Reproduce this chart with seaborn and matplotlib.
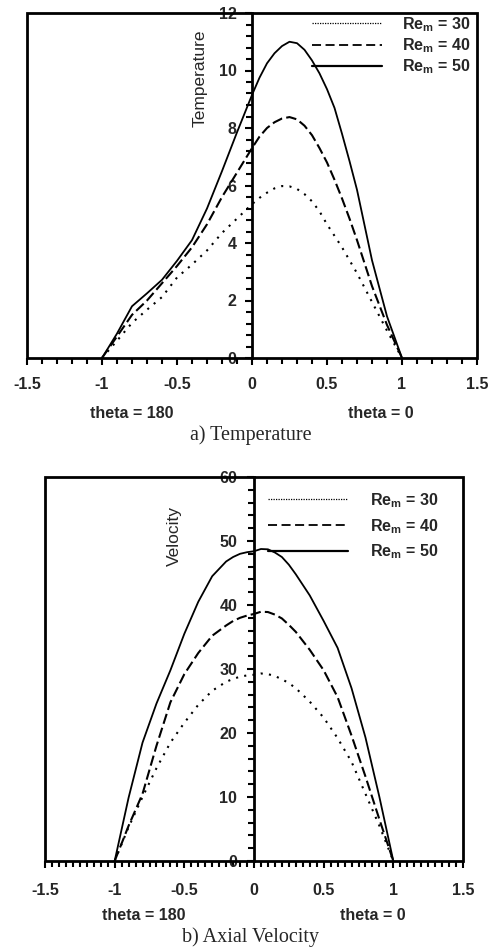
import numpy as np
import pandas as pd
import matplotlib
matplotlib.use("Agg")
import matplotlib.pyplot as plt
import seaborn as sns
from matplotlib.patches import Rectangle
from matplotlib.lines import Line2D
from matplotlib.ticker import MultipleLocator, FixedLocator, FixedFormatter

# ---------------- data ----------------
x_temp = [-1.0, -0.9, -0.8, -0.7, -0.6, -0.5, -0.4, -0.3, -0.2, -0.1, 0.0,
          0.05, 0.1, 0.15, 0.2, 0.25, 0.3, 0.35, 0.4, 0.45, 0.5, 0.55, 0.6, 0.65,
          0.7, 0.8, 0.9, 1.0]
temp_re30 = [0.0, 0.6, 1.22, 1.68, 2.12, 2.8, 3.25, 3.74, 4.35, 4.85, 5.35,
             5.57, 5.75, 5.9, 5.98, 5.97, 5.88, 5.7, 5.45, 5.1, 4.65, 4.25, 3.85, 3.4,
             2.95, 1.95, 0.95, 0.0]
temp_re40 = [0.0, 0.75, 1.5, 2.0, 2.6, 3.2, 3.85, 4.65, 5.6, 6.45, 7.3,
             7.7, 8.0, 8.2, 8.33, 8.38, 8.3, 8.08, 7.75, 7.3, 6.8, 6.2, 5.55, 4.85,
             4.1, 2.5, 1.15, 0.0]
temp_re50 = [0.0, 0.85, 1.8, 2.25, 2.72, 3.38, 4.1, 5.2, 6.5, 7.85, 9.15,
             9.75, 10.25, 10.6, 10.85, 11.0, 10.95, 10.72, 10.35, 9.9, 9.35, 8.7, 7.8, 6.85,
             5.85, 3.4, 1.45, 0.0]

x_vel = [-1.0, -0.9, -0.8, -0.7, -0.6, -0.5, -0.4, -0.3, -0.2, -0.15, -0.1, -0.05,
         0.0, 0.05, 0.1, 0.15, 0.2, 0.25, 0.3, 0.4, 0.5, 0.6, 0.7, 0.8, 0.9, 1.0]
vel_re30 = [0.0, 5.3, 10.0, 14.5, 18.5, 21.6, 24.4, 26.6, 28.0, 28.45, 28.8, 29.0,
            29.1, 29.3, 29.2, 28.9, 28.4, 27.8, 27.0, 24.9, 22.4, 19.2, 15.5, 10.5, 5.5, 0.0]
vel_re40 = [0.0, 5.5, 10.5, 18.0, 24.8, 29.2, 32.5, 35.2, 36.8, 37.5, 38.0, 38.35,
            38.6, 38.95, 38.9, 38.5, 37.9, 36.9, 35.8, 33.0, 29.8, 25.6, 19.6, 13.2, 6.5, 0.0]
vel_re50 = [0.0, 9.9, 18.5, 24.6, 29.8, 35.5, 40.5, 44.5, 46.8, 47.5, 48.0, 48.25,
            48.4, 48.75, 48.7, 48.2, 47.5, 46.3, 44.8, 41.5, 37.5, 33.3, 27.0, 19.3, 10.0, 0.0]

re_labels = ["Re$_{m}$ = 30", "Re$_{m}$ = 40", "Re$_{m}$ = 50"]
x_ticks = [-1.5, -1.0, -0.5, 0.0, 0.5, 1.0, 1.5]
x_ticklabels = ["-1.5", "-1", "-0.5", "0", "0.5", "1", "1.5"]
temp_ticks = [0, 2, 4, 6, 8, 10, 12]
vel_ticks = [0, 10, 20, 30, 40, 50, 60]

# ---------------- style ----------------
sns.set_style("white")
plt.rcParams["font.family"] = ["Liberation Sans", "DejaVu Sans"]
plt.rcParams["mathtext.fontset"] = "custom"
plt.rcParams["mathtext.rm"] = "Liberation Sans"
plt.rcParams["mathtext.default"] = "regular"

W, H = 492, 948
fig = plt.figure(figsize=(W / 100, H / 100), dpi=100)


def fr(x0, y0, x1, y1):
    return [x0 / W, 1 - y1 / H, (x1 - x0) / W, (y1 - y0) / H]


ax1 = fig.add_axes(fr(27, 13, 477, 358))
ax2 = fig.add_axes(fr(45, 477, 463, 861))

styles = [dict(dashes=(1, 3), lw=1.5), dict(dashes=(5, 2), lw=1.5), dict(dashes="", lw=1.3)]


def draw(ax, xs, series, ymax, yticks, yminor, xminor, ylab, ylab_pos, pady, padx):
    for ys, st in zip(series, styles):
        df = pd.DataFrame({"x": xs, "y": ys})
        sns.lineplot(data=df, x="x", y="y", ax=ax, color="black",
                     lw=st["lw"], estimator=None, sort=False, legend=False)
        l = ax.lines[-1]
        l.set_solid_joinstyle("round")
        if st["dashes"]:
            l.set_dashes(st["dashes"])
    ax.set_xlim(-1.5, 1.5)
    ax.set_ylim(0, ymax)
    ax.set_xlabel("")
    ax.set_ylabel("")
    for s in ["top", "right", "bottom"]:
        ax.spines[s].set_visible(False)
    ax.spines["left"].set_position(("data", 0))
    ax.spines["left"].set_linewidth(2)
    ax.spines["left"].set_color("black")
    ax.add_patch(Rectangle((0, 0), 1, 1, transform=ax.transAxes, fill=False,
                           lw=2, edgecolor="black", clip_on=False, zorder=5))
    ax.xaxis.set_major_locator(FixedLocator(x_ticks))
    ax.xaxis.set_major_formatter(FixedFormatter(x_ticklabels))
    ax.xaxis.set_minor_locator(MultipleLocator(xminor))
    ax.yaxis.set_major_locator(FixedLocator(yticks))
    ax.yaxis.set_minor_locator(MultipleLocator(yminor))
    ax.tick_params(axis="both", which="both", direction="out", color="black",
                   width=1.5, top=False, right=False, left=True, bottom=True)
    ax.tick_params(axis="both", which="major", length=5)
    ax.tick_params(axis="both", which="minor", length=4)
    ax.tick_params(axis="x", which="major", pad=padx, labelsize=11.5)
    ax.tick_params(axis="y", which="major", pad=pady, labelsize=11.5)
    for t in ax.get_xticklabels() + ax.get_yticklabels():
        t.set_fontweight("bold")
    ax.text(ylab_pos[0], ylab_pos[1], ylab, transform=ax.transAxes, rotation=90,
            ha="center", va="center", fontsize=12.5)


draw(ax1, x_temp, [temp_re30, temp_re40, temp_re50], 12, temp_ticks, 0.4, 0.1,
     "Temperature", (0.384, 0.81), 6, 9)
draw(ax2, x_vel, [vel_re30, vel_re40, vel_re50], 60, vel_ticks, 2, 0.05,
     "Velocity", (0.309, 0.846), 7, 11)


# legends (proxy handles)
def legend(ax, x, y, hl, tp, ls):
    handles = [Line2D([], [], color="black", lw=0.9, linestyle=(0, (1, 1))),
               Line2D([], [], color="black", lw=1.3, linestyle=(0, (5, 2.5))),
               Line2D([], [], color="black", lw=1.6)]
    leg = ax.legend(handles, re_labels, loc="upper left",
                    bbox_to_anchor=(x / W, 1 - y / H), bbox_transform=fig.transFigure,
                    frameon=False, borderpad=0, borderaxespad=0,
                    handlelength=hl, handletextpad=tp, labelspacing=ls,
                    prop=dict(weight="bold", size=11.5))
    return leg


legend(ax1, 312, 15, 4.4, 1.25, 0.15)
legend(ax2, 268, 491, 5.0, 1.37, 0.45)


# annotations
def ftext(x, y, s, **kw):
    fig.text(x / W, 1 - y / H, s, ha="center", va="center", **kw)


ftext(131.7, 413, "theta = 180", fontsize=11.5, fontweight="bold")
ftext(380.8, 413, "theta = 0", fontsize=11.5, fontweight="bold")
ftext(250.5, 435, "a) Temperature", fontsize=14.5, family=["Liberation Serif"])
ftext(143.3, 915, "theta = 180", fontsize=11.5, fontweight="bold")
ftext(373.3, 915, "theta = 0", fontsize=11.5, fontweight="bold")
ftext(250.5, 937, "b) Axial Velocity", fontsize=14.5, family=["Liberation Serif"])

fig.savefig("out.png", dpi=100)
